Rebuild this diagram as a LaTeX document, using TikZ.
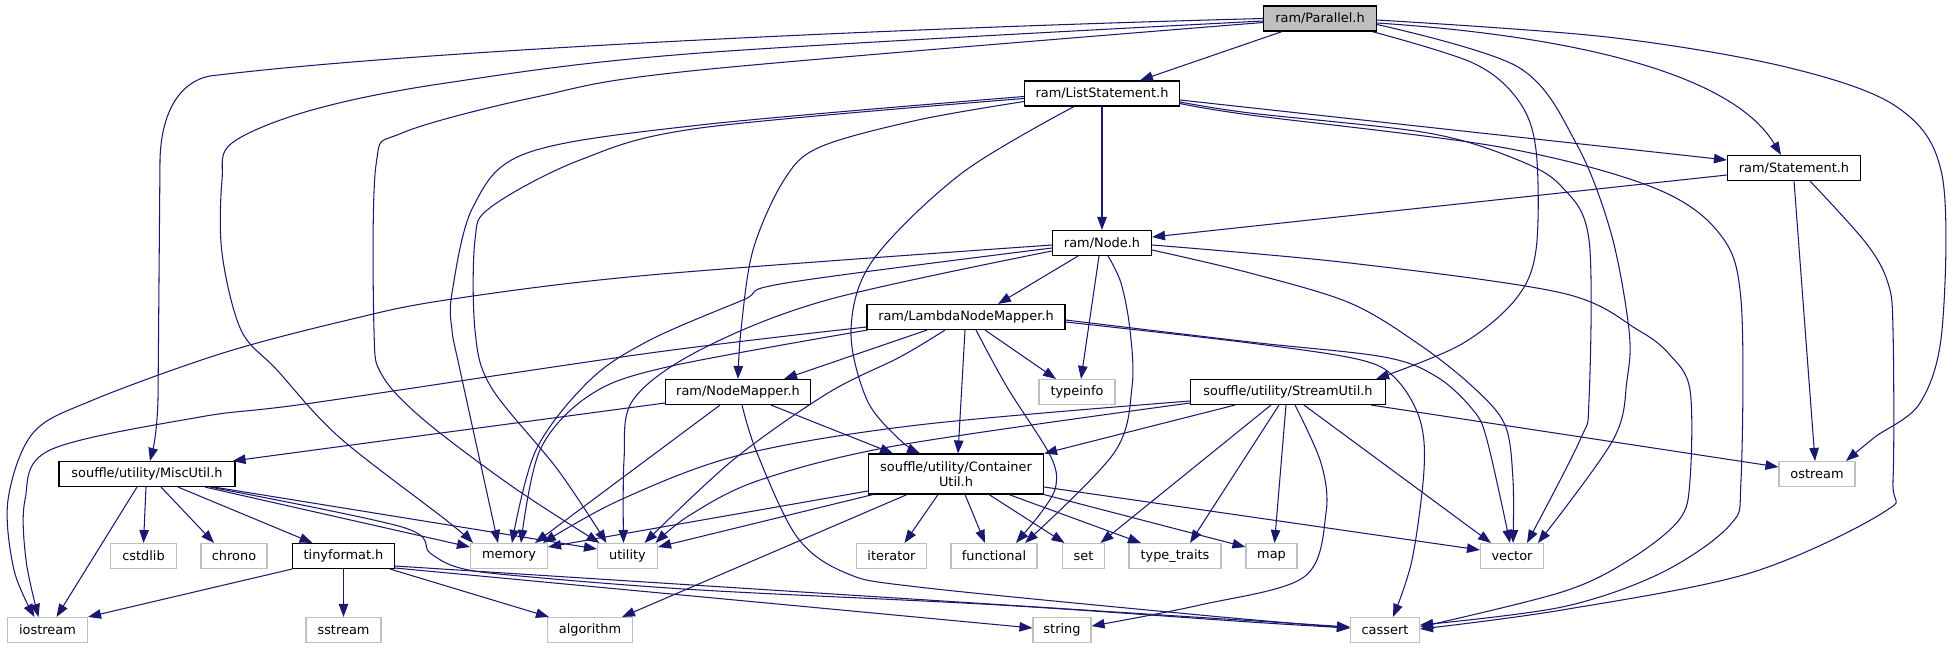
\documentclass[tikz,border=0pt]{standalone}
\usepackage{fontspec}
\setmainfont{DejaVu Sans}
\usetikzlibrary{arrows.meta}
\definecolor{edgecol}{HTML}{191970}
\definecolor{graybd}{HTML}{BFBFBF}
\newcommand\myedge[1]{\draw[edgeline] plot[smooth,tension=0.55] coordinates {#1};}
\begin{document}
\begin{tikzpicture}[x=1pt,y=-1pt,
  every node/.style={font=\fontsize{12.9pt}{14.5pt}\selectfont},
  fbox/.style={draw=black,line width=1.1pt,fill=white,minimum height=25pt,inner sep=0pt,align=center},
  sbox/.style={draw=graybd,line width=1.1pt,fill=white,minimum height=25pt,inner sep=0pt,align=center},
  edgeline/.style={draw=edgecol,line width=1.05pt,-{Triangle[length=13pt,width=9.5pt]}}]
\fill[white] (0,0) rectangle (1948,649);
\useasboundingbox (0,0) rectangle (1948,649);
% nodes
\node[fbox,fill=graybd,minimum width=113pt] (par) at (1320,18.5) {ram/Parallel.h};
\node[fbox,minimum width=155pt] (ls) at (1102,93.5) {ram/ListStatement.h};
\node[fbox,minimum width=133pt] (st) at (1794,168) {ram/Statement.h};
\node[fbox,minimum width=99pt] (nd) at (1102,243) {ram/Node.h};
\node[fbox,minimum width=198pt] (lnm) at (966,317) {ram/LambdaNodeMapper.h};
\node[fbox,minimum width=145pt] (nm) at (738,392) {ram/NodeMapper.h};
\node[sbox,minimum width=76pt] (ti) at (1077,392) {typeinfo};
\node[fbox,minimum width=195pt] (su) at (1288,392) {souffle/utility/StreamUtil.h};
\node[fbox,minimum width=176pt] (mu) at (147,474) {souffle/utility/MiscUtil.h};
\node[fbox,minimum width=175pt,minimum height=40pt] (cu) at (956,474) {souffle/utility/Container\\Util.h};
\node[sbox,minimum width=76pt] (os) at (1817,474) {ostream};
\node[sbox,minimum width=66pt] (cstd) at (143.5,556) {cstdlib};
\node[sbox,minimum width=66pt] (chr) at (234,556) {chrono};
\node[fbox,minimum width=102pt] (tf) at (343.5,556) {tinyformat.h};
\node[sbox,minimum width=77pt] (mem) at (509,556) {memory};
\node[sbox,minimum width=60pt] (ut) at (627.5,556) {utility};
\node[sbox,minimum width=70pt] (it) at (891.5,556) {iterator};
\node[sbox,minimum width=86pt] (fn) at (994,556) {functional};
\node[sbox,minimum width=42pt] (set) at (1083.5,556) {set};
\node[sbox,minimum width=92pt] (tt) at (1175,556) {type\_traits};
\node[sbox,minimum width=51pt] (map) at (1271.5,556) {map};
\node[sbox,minimum width=63pt] (vec) at (1512,556) {vector};
\node[sbox,minimum width=80pt] (ios) at (47.5,630) {iostream};
\node[sbox,minimum width=75pt] (ss) at (343.5,630) {sstream};
\node[sbox,minimum width=85pt] (alg) at (590,630) {algorithm};
\node[sbox,minimum width=58pt] (str) at (1062,630) {string};
\node[sbox,minimum width=69pt] (cas) at (1385,630) {cassert};
% Parallel.h
\draw[edgeline] (par) -- (ls);
\draw[edgeline] ([yshift=-4.5pt]par.east) .. controls (1560,35) and (1730,70) .. ([xshift=-13pt]st.north);
\myedge{([yshift=-1.5pt]par.east) (1607,37) (1786,67) (1897,107) (1942,175) (1942,330) (1920,403) (1875,437) ([xshift=29pt]os.north)}
\myedge{([xshift=-5pt]par.south east) (1473,63) (1518,100) (1536,150) (1536,250) (1515,300) (1460,345) ([xshift=-10pt]su.north east)}
\myedge{([yshift=-6pt]par.east) (1518,67) (1576,143) (1611,233) (1629,330) (1627,380) (1613,440) ([xshift=26pt]vec.north)}
\draw[edgeline] (par.west) .. controls (900,28) and (420,50) .. (210,76) .. controls (178,82) and (161,115) .. (160,160) -- (158,400) .. controls (157,430) and (154,445) .. ([xshift=3pt]mu.north);
\myedge{([yshift=-2.5pt]par.west) (700,53) (446,83) (312,110) (232,143) (222,180) (222,253) (241,330) (277,370) (339,437) (446,520) ([xshift=-36pt]mem.north)}
\myedge{([yshift=-4pt]par.west) (700,70) (536,97) (402,133) (376,165) (374,330) (382,375) (424,420) (513,487) ([xshift=-28pt]ut.north)}
% ListStatement.h
\draw[edgeline] (ls) -- (nd);
\draw[edgeline] ([yshift=-6.5pt]ls.east) -- ([yshift=8pt]st.west);
\myedge{([yshift=-8.5pt]ls.east) (1250,113) (1428,133) (1518,160) (1562,187) (1589,240) (1589,400) (1580,440) ([xshift=15pt]vec.north)}
\myedge{([yshift=-10pt]ls.east) (1250,115) (1500,147) (1652,187) (1719,233) (1741,300) (1741,480) (1730,525) (1661,573) (1562,607) ([yshift=5pt]cas.east)}
\myedge{([yshift=-3pt]ls.west) (700,125) (527,153) (473,207) (452,293) (452,330) (460,370) ([xshift=-11pt]mem.north)}
\myedge{([yshift=-5pt]ls.west) (700,128) (580,160) (491,207) (475,240) (475,330) (491,387) (558,470) ([xshift=-21pt]ut.north)}
\myedge{([yshift=-8pt]ls.west) (918,120) (820,147) (784,180) (753,250) (741,330) (nm.north)}
\myedge{([xshift=-28pt]ls.south) (962,173) (873,260) (851,330) (867,400) (900,440) ([xshift=-36pt]cu.north)}
% Statement.h
\draw[edgeline] ([yshift=-7pt]st.west) -- ([yshift=6pt]nd.east);
\draw[edgeline] (st.south) -- ([xshift=-2pt]os.north);
\myedge{([xshift=16pt]st.south) (1866,243) (1888,283) (1893,330) (1893,480) (1884,512) (1750,573) (1562,610) ([yshift=1pt]cas.east)}
% Node.h
\draw[edgeline] ([xshift=-24pt]nd.south) -- ([xshift=32pt]lnm.north);
\draw[edgeline] ([xshift=-3pt]nd.south) -- ([xshift=4pt]ti.north);
\myedge{([xshift=6pt]nd.south) (1121,283) (1130,330) (1132,387) (1114,453) ([xshift=31pt]fn.north)}
\myedge{([yshift=-2pt]nd.west) (650,275) (446,300) (348,320) (223,353) (93,400) (33,433) (8,500) (14,570) ([xshift=-13pt]ios.north)}
\myedge{([yshift=-5pt]nd.west) (786,283) (743,300) (650,340) (590,380) (536,450) ([xshift=3pt]mem.north)}
\myedge{([yshift=-8pt]nd.west) (827,300) (700,350) (633,400) (624,460) ([xshift=-4pt]ut.north)}
\myedge{([yshift=-2pt]nd.east) (1350,263) (1562,293) (1638,330) (1670,355) (1690,390) (1690,480) (1679,520) (1629,560) (1562,592) ([yshift=3pt]cas.east)}
\myedge{([yshift=-7pt]nd.east) (1250,273) (1350,303) (1420,345) (1473,387) (1505,425) (1513,480) ([xshift=1pt]vec.north)}
% LambdaNodeMapper.h
\draw[edgeline] ([xshift=-39pt]lnm.south) -- ([xshift=46pt]nm.north);
\draw[edgeline] ([xshift=19pt]lnm.south) -- ([xshift=-21pt]ti.north);
\draw[edgeline] ([xshift=-1pt]lnm.south) -- ([xshift=2pt]cu.north);
\myedge{([xshift=10pt]lnm.south) (1007,387) (1050,455) (1056,485) (1043,510) ([xshift=22pt]fn.north)}
\myedge{([xshift=-21pt]lnm.south) (900,357) (828,393) (733,460) ([xshift=17pt]ut.north)}
\myedge{([yshift=-10pt]lnm.west) (650,353) (312,403) (200,417) (50,450) (25,500) (26,560) ([xshift=-9pt]ios.north)}
\myedge{([xshift=1pt]lnm.south west) (667,367) (590,395) (540,450) ([xshift=12pt]mem.north)}
\myedge{([yshift=-5pt]lnm.east) (1250,343) (1361,360) (1397,380) (1420,420) (1424,470) (1412,560) ([xshift=8pt]cas.north)}
\myedge{([yshift=-3pt]lnm.east) (1250,342) (1384,357) (1437,377) (1473,410) (1487,440) ([xshift=-2pt]vec.north)}
% NodeMapper.h
\draw[edgeline] ([yshift=-11pt]nm.west) -- ([xshift=-3pt]mu.north east);
\draw[edgeline] ([xshift=33pt]nm.south) -- ([xshift=-63pt]cu.north);
\draw[edgeline] ([xshift=-18pt]nm.south) -- ([xshift=26pt]mem.north);
\myedge{([xshift=4pt]nm.south) (757,453) (797,537) (846,573) (918,587) (1200,615) ([yshift=2pt]cas.west)}
% StreamUtil.h
\draw[edgeline] ([xshift=-53pt]su.south) -- (cu.north east);
\draw[edgeline] ([xshift=-17pt]su.south) -- ([xshift=17pt]set.north);
\draw[edgeline] ([xshift=-9pt]su.south) -- ([xshift=15pt]tt.north);
\draw[edgeline] ([xshift=-2pt]su.south) -- ([xshift=3pt]map.north);
\myedge{([xshift=7pt]su.south) (1321,463) (1326,513) (1304,577) (1200,605) ([yshift=4pt]str.east)}
\draw[edgeline] ([xshift=16pt]su.south) -- ([xshift=-21pt]vec.north);
\draw[edgeline] ([xshift=-15pt]su.south east) -- ([yshift=7pt]os.west);
\myedge{([yshift=-9pt]su.west) (918,425) (740,455) (620,500) ([xshift=34pt]mem.north)}
\myedge{([yshift=-11pt]su.west) (900,445) (760,480) (690,515) ([xshift=28pt]ut.north)}
% ContainerUtil.h
\draw[edgeline] ([yshift=-17pt]cu.west) -- ([yshift=9pt]mem.east);
\draw[edgeline] ([xshift=5pt]cu.south west) -- ([yshift=9pt]ut.east);
\draw[edgeline] ([xshift=-49pt]cu.south) -- ([xshift=32pt]alg.north);
\draw[edgeline] ([xshift=-18pt]cu.south) -- ([xshift=13pt]it.north);
\draw[edgeline] ([xshift=9pt]cu.south) -- ([xshift=-9pt]fn.north);
\draw[edgeline] ([xshift=33pt]cu.south) -- ([xshift=-19pt]set.north);
\draw[edgeline] ([xshift=53pt]cu.south) -- ([xshift=-34pt]tt.north);
\draw[edgeline] (cu.south east) -- ([yshift=9pt]map.west);
\draw[edgeline] ([yshift=-13pt]cu.east) -- ([yshift=6pt]vec.west);
% MiscUtil.h
\draw[edgeline] ([xshift=-10pt]mu.south) -- ([xshift=9pt]ios.north);
\draw[edgeline] ([xshift=-1pt]mu.south) -- (cstd.north);
\draw[edgeline] ([xshift=14pt]mu.south) -- ([xshift=-20pt]chr.north);
\draw[edgeline] ([xshift=31pt]mu.south) -- ([xshift=-31pt]tf.north);
\draw[edgeline] ([xshift=58pt]mu.south) -- ([yshift=9pt]mem.west);
\draw[edgeline] ([xshift=67pt]mu.south) -- ([yshift=7pt]ut.west);
\myedge{([xshift=63pt]mu.south) (402,527) (430,553) (460,568) (520,576) (700,590) (1000,605) (1250,622) ([yshift=2pt]cas.west)}
% tinyformat.h
\draw[edgeline] (tf.south west) -- (ios.north east);
\draw[edgeline] (tf) -- (ss);
\draw[edgeline] ([xshift=-5pt]tf.south east) -- ([xshift=2pt]alg.north west);
\draw[edgeline] ([yshift=-12pt]tf.east) -- ([yshift=2pt]str.west);
\draw[edgeline] ([yshift=-10pt]tf.east) -- ([yshift=3pt]cas.west);
\end{tikzpicture}
\end{document}
